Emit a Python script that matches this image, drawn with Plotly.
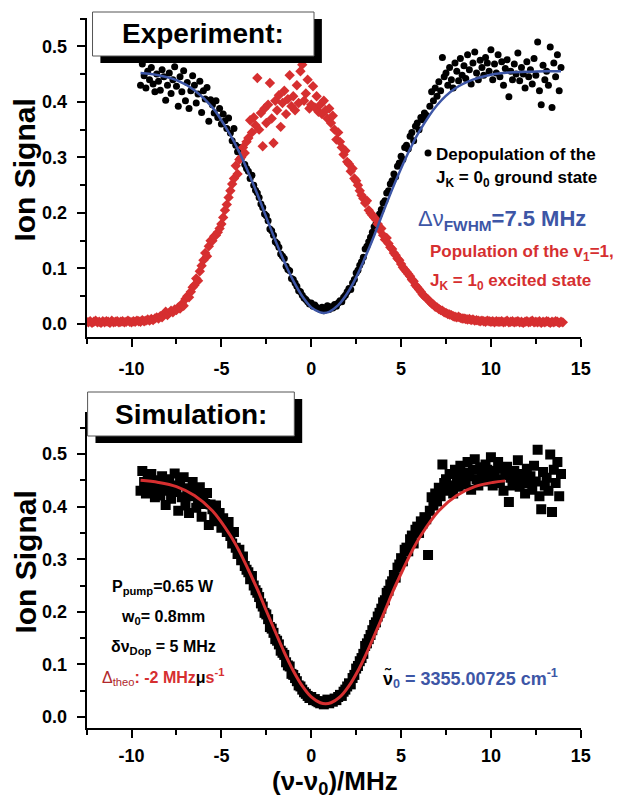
import numpy as np
import plotly.graph_objects as go

# ---------------- data ----------------
# Ground-state depopulation scan (ion signal), sampled every 0.1 MHz from -9.5 MHz
depop_start, depop_step = -9.5, 0.1
depop_signal = [
    0.430, 0.468, 0.447, 0.425, 0.455, 0.440, 0.462, 0.432, 0.418, 0.450,
    0.437, 0.421, 0.458, 0.445, 0.403, 0.430, 0.452, 0.415, 0.440, 0.463,
    0.428, 0.392, 0.445, 0.418, 0.456, 0.402, 0.435, 0.388, 0.420, 0.447,
    0.430, 0.398, 0.414, 0.437, 0.381, 0.420, 0.405, 0.426, 0.365, 0.404,
    0.395, 0.380, 0.402, 0.372, 0.388, 0.360, 0.378, 0.366, 0.352, 0.371,
    0.344, 0.330, 0.352, 0.322, 0.310, 0.318, 0.298, 0.305, 0.287, 0.280,
    0.275, 0.262, 0.268, 0.250, 0.241, 0.236, 0.228, 0.216, 0.210, 0.198,
    0.195, 0.186, 0.171, 0.168, 0.160, 0.148, 0.145, 0.138, 0.126, 0.122,
    0.118, 0.104, 0.098, 0.096, 0.082, 0.080, 0.074, 0.068, 0.060, 0.058,
    0.052, 0.047, 0.044, 0.040, 0.036, 0.038, 0.032, 0.034, 0.030, 0.028,
    0.026, 0.030, 0.024, 0.028, 0.033, 0.026, 0.031, 0.029, 0.035, 0.032,
    0.038, 0.042, 0.040, 0.048, 0.052, 0.058, 0.064, 0.062, 0.074, 0.080,
    0.092, 0.097, 0.106, 0.112, 0.120, 0.135, 0.140, 0.148, 0.156, 0.165,
    0.175, 0.180, 0.191, 0.198, 0.206, 0.218, 0.222, 0.236, 0.240, 0.252,
    0.258, 0.270, 0.265, 0.284, 0.290, 0.302, 0.296, 0.318, 0.322, 0.315,
    0.338, 0.345, 0.330, 0.356, 0.362, 0.350, 0.372, 0.368, 0.380, 0.376,
    0.308, 0.392, 0.418, 0.402, 0.425, 0.410, 0.436, 0.420, 0.480, 0.445,
    0.452, 0.430, 0.462, 0.440, 0.425, 0.470, 0.455, 0.438, 0.478, 0.448,
    0.465, 0.442, 0.485, 0.458, 0.432, 0.470, 0.490, 0.452, 0.440, 0.475,
    0.462, 0.448, 0.480, 0.470, 0.455, 0.494, 0.440, 0.468, 0.452, 0.485,
    0.445, 0.472, 0.430, 0.460, 0.476, 0.409, 0.455, 0.440, 0.468, 0.450,
    0.488, 0.438, 0.462, 0.450, 0.425, 0.472, 0.445, 0.458, 0.432, 0.478,
    0.448, 0.508, 0.420, 0.395, 0.466, 0.440, 0.455, 0.430, 0.499, 0.390,
    0.470, 0.445, 0.485, 0.420, 0.462,
]
depop_freq = np.round(depop_start + depop_step * np.arange(len(depop_signal)), 2)

# Excited-state population scan, sampled every 0.1 MHz from -12.5 MHz
pop_start, pop_step = -12.5, 0.1
pop_signal = [
    0.004, 0.003, 0.005, 0.002, 0.004, 0.006, 0.003, 0.004, 0.002, 0.005,
    0.003, 0.005, 0.004, 0.002, 0.006, 0.003, 0.004, 0.005, 0.003, 0.004,
    0.005, 0.003, 0.004, 0.006, 0.004, 0.003, 0.005, 0.004, 0.006, 0.005,
    0.004, 0.007, 0.005, 0.006, 0.008, 0.006, 0.009, 0.007, 0.010, 0.012,
    0.010, 0.014, 0.012, 0.017, 0.022, 0.016, 0.020, 0.024, 0.021, 0.026,
    0.025, 0.030, 0.028, 0.036, 0.033, 0.045, 0.050, 0.048, 0.058, 0.066,
    0.070, 0.082, 0.078, 0.095, 0.105, 0.115, 0.128, 0.122, 0.140, 0.150,
    0.150, 0.158, 0.160, 0.165, 0.172, 0.180, 0.192, 0.205, 0.215, 0.228,
    0.240, 0.252, 0.262, 0.285, 0.270, 0.296, 0.300, 0.318, 0.308, 0.328,
    0.335, 0.367, 0.345, 0.372, 0.358, 0.443, 0.350, 0.380, 0.320, 0.388,
    0.362, 0.395, 0.434, 0.370, 0.326, 0.402, 0.385, 0.412, 0.355, 0.398,
    0.420, 0.378, 0.405, 0.448, 0.392, 0.410, 0.385, 0.430, 0.398, 0.455,
    0.467, 0.402, 0.415, 0.440, 0.388, 0.395, 0.428, 0.390, 0.410, 0.382,
    0.395, 0.378, 0.402, 0.385, 0.370, 0.388, 0.362, 0.375, 0.350, 0.332,
    0.345, 0.328, 0.318, 0.305, 0.312, 0.292, 0.288, 0.275, 0.280, 0.262,
    0.258, 0.250, 0.240, 0.232, 0.226, 0.218, 0.222, 0.205, 0.200, 0.196,
    0.192, 0.188, 0.180, 0.170, 0.172, 0.160, 0.152, 0.155, 0.145, 0.138,
    0.135, 0.128, 0.124, 0.118, 0.115, 0.108, 0.102, 0.098, 0.094, 0.090,
    0.086, 0.080, 0.077, 0.070, 0.066, 0.062, 0.058, 0.053, 0.050, 0.047,
    0.044, 0.040, 0.037, 0.035, 0.031, 0.030, 0.027, 0.025, 0.024, 0.021,
    0.020, 0.018, 0.017, 0.016, 0.014, 0.013, 0.012, 0.013, 0.011, 0.010,
    0.010, 0.009, 0.008, 0.009, 0.007, 0.008, 0.006, 0.007, 0.006, 0.005,
    0.006, 0.005, 0.004, 0.006, 0.005, 0.004, 0.005, 0.003, 0.005, 0.004,
    0.004, 0.005, 0.003, 0.004, 0.006, 0.003, 0.004, 0.005, 0.003, 0.004,
    0.005, 0.003, 0.004, 0.002, 0.004, 0.005, 0.003, 0.004, 0.006, 0.003,
    0.004, 0.003, 0.005, 0.002, 0.004, 0.003, 0.005, 0.004, 0.002, 0.004,
    0.003, 0.005, 0.004, 0.002, 0.004, 0.003,
]
pop_freq = np.round(pop_start + pop_step * np.arange(len(pop_signal)), 2)

# Gaussian fit of the depopulation dip (FWHM 7.5 MHz)
fit_freq = [-9.5, -8.5, -7.5, -6.5, -5.5, -4.5, -4.0, -3.5, -3.0, -2.5, -2.0,
            -1.5, -1.0, -0.5, 0.0, 0.5, 0.7, 1.0, 1.5, 2.0, 2.5, 3.0, 3.5,
            4.0, 4.5, 5.0, 5.5, 6.0, 7.0, 8.0, 9.0, 10.0, 11.0, 12.0, 13.0, 13.9]
fit_signal = [0.452, 0.448, 0.439, 0.421, 0.390, 0.340, 0.309, 0.273, 0.234,
              0.192, 0.151, 0.112, 0.078, 0.050, 0.030, 0.021, 0.020, 0.022,
              0.034, 0.055, 0.084, 0.120, 0.159, 0.201, 0.242, 0.280, 0.315,
              0.346, 0.394, 0.424, 0.440, 0.449, 0.453, 0.454, 0.455, 0.455]

# Simulated rate-equation curve
sim_freq = [-9.5, -8.5, -7.5, -6.5, -5.5, -4.5, -4.0, -3.5, -3.0, -2.5, -2.0,
            -1.5, -1.0, -0.5, 0.0, 0.5, 0.8, 1.1, 1.6, 2.1, 2.6, 3.1, 3.6,
            4.1, 4.6, 5.1, 5.6, 6.1, 7.1, 8.1, 9.1, 10.1, 10.8]
sim_signal = [0.450, 0.446, 0.438, 0.421, 0.392, 0.345, 0.315, 0.280, 0.243,
              0.202, 0.162, 0.123, 0.088, 0.059, 0.038, 0.027, 0.025, 0.027,
              0.038, 0.059, 0.088, 0.123, 0.162, 0.202, 0.243, 0.280, 0.315,
              0.345, 0.392, 0.421, 0.438, 0.446, 0.449]

x_ticks = [-10, -5, 0, 5, 10, 15]
y_ticks = [0.0, 0.1, 0.2, 0.3, 0.4, 0.5]

# ---------------- styling ----------------
W, H = 639, 799
FONT = "Liberation Sans, Arial, Helvetica, sans-serif"
RED = "#d62f30"
BLUE = "#3d56a6"


def fx(p):
    return p / W


def fy(p):
    return 1 - p / H


fig = go.Figure()

# top panel
fig.add_trace(go.Scatter(x=depop_freq, y=depop_signal, mode="markers",
                         marker=dict(symbol="circle", size=7, color="black"),
                         xaxis="x", yaxis="y", showlegend=False))
fig.add_trace(go.Scatter(x=pop_freq, y=pop_signal, mode="markers",
                         marker=dict(symbol="diamond", size=8, color=RED),
                         xaxis="x", yaxis="y", showlegend=False))
fig.add_trace(go.Scatter(x=fit_freq, y=fit_signal, mode="lines",
                         line=dict(color=BLUE, width=2.5, shape="spline"),
                         xaxis="x", yaxis="y", showlegend=False))

# bottom panel
fig.add_trace(go.Scatter(x=depop_freq, y=depop_signal, mode="markers",
                         marker=dict(symbol="square", size=10, color="black"),
                         xaxis="x2", yaxis="y2", showlegend=False))
fig.add_trace(go.Scatter(x=sim_freq, y=sim_signal, mode="lines",
                         line=dict(color=RED, width=3, shape="spline"),
                         xaxis="x2", yaxis="y2", showlegend=False))

tickfont = dict(family=FONT, size=18, color="black", weight="bold")


def xaxis_style(anchor, standoff):
    return dict(
        domain=[fx(88), fx(590)], anchor=anchor, range=[-12.5, 15],
        tickvals=x_ticks, ticktext=[str(v) for v in x_ticks],
        showline=True, linecolor="black", linewidth=2,
        ticks="outside", ticklen=8, tickwidth=2, tickcolor="black",
        minor=dict(ticks="outside", dtick=2.5, tick0=0, ticklen=5,
                   tickwidth=2, tickcolor="black", showgrid=False),
        showgrid=False, zeroline=False, tickfont=tickfont,
        ticklabelstandoff=standoff,
    )


def yaxis_style(anchor, dom, rng):
    return dict(
        domain=dom, anchor=anchor, range=rng,
        tickvals=y_ticks, ticktext=[f"{v:.1f}" for v in y_ticks],
        showline=True, linecolor="black", linewidth=2,
        ticks="outside", ticklen=8, tickwidth=2, tickcolor="black",
        minor=dict(ticks="outside", dtick=0.05, tick0=0, ticklen=5,
                   tickwidth=2, tickcolor="black", showgrid=False),
        showgrid=False, zeroline=False, tickfont=tickfont,
        ticklabelstandoff=6,
    )


shapes = []
annotations = []


def title_box(x0, y0, x1, y1, text):
    # black drop shadow, then the white framed label box
    shapes.append(dict(type="rect", xref="paper", yref="paper",
                       x0=fx(x0 + 8), x1=fx(x1 + 8), y0=fy(y1 + 7), y1=fy(y0 + 7),
                       fillcolor="black", line=dict(width=0), layer="above"))
    shapes.append(dict(type="rect", xref="paper", yref="paper",
                       x0=fx(x0), x1=fx(x1), y0=fy(y1), y1=fy(y0),
                       fillcolor="white", line=dict(color="#555", width=1),
                       layer="above"))
    annotations.append(dict(xref="paper", yref="paper",
                            x=fx((x0 + x1) / 2), y=fy((y0 + y1) / 2),
                            text=f"<b>{text}</b>", showarrow=False,
                            xanchor="center", yanchor="middle",
                            font=dict(family=FONT, size=28, color="black")))


def label(x, y, text, size, color="black", xanchor="left"):
    annotations.append(dict(xref="paper", yref="paper", x=fx(x), y=fy(y),
                            text=text, showarrow=False, xanchor=xanchor,
                            yanchor="middle",
                            font=dict(family=FONT, size=size, color=color)))


title_box(94, 12, 319, 56, "Experiment:")
title_box(89, 392, 299, 436, "Simulation:")

# axis titles
for yc in (170, 562):
    annotations.append(dict(xref="paper", yref="paper", x=fx(25), y=fy(yc),
                            text="<b>Ion Signal</b>", showarrow=False,
                            textangle=-90, xanchor="center", yanchor="middle",
                            font=dict(family=FONT, size=30, color="black")))
annotations.append(dict(xref="paper", yref="paper", x=fx(340), y=fy(782),
                        text="<b>(ν-ν<sub>0</sub>)/MHz</b>", showarrow=False,
                        xanchor="center", yanchor="middle",
                        font=dict(family=FONT, size=26, color="black")))

# top panel labels
label(441, 154, "<b>Depopulation of the</b>", 17)
label(441, 179, "<b>J<sub>K</sub> = 0<sub>0</sub> ground state</b>", 17)
label(423, 220, "Δν<b><sub>FWHM</sub>=7.5 MHz</b>", 22, BLUE)
label(435, 253, "<b>Population of the v<sub>1</sub>=1,</b>", 17, RED)
label(435, 282, "<b>J<sub>K</sub> = 1<sub>0</sub> excited state</b>", 17, RED)

# bottom panel labels
label(166, 587, "<b>P<sub>pump</sub>=0.65 W</b>", 16, xanchor="center")
label(166, 617, "<b>w<sub>0</sub>= 0.8mm</b>", 16, xanchor="center")
label(166, 647, "<b>δν<sub>Dop</sub> = 5 MHz</b>", 16, xanchor="center")
label(166, 677,
      "<span style='color:#b0282c'>Δ<sub>theo</sub></span>"
      "<b>: -2 MHz<span style='color:black'>μ</span>s<sup>-1</sup></b>",
      16, RED, xanchor="center")
label(387, 678,
      "<b><span style='color:black'>ν\u0303</span><sub>0</sub>"
      " = 3355.00725 cm<sup>-1</sup></b>", 18, BLUE)

fig.update_layout(
    width=W, height=H,
    margin=dict(l=0, r=0, t=0, b=0),
    paper_bgcolor="white", plot_bgcolor="white",
    xaxis=xaxis_style("y", 6),
    yaxis=yaxis_style("x", [fy(337), fy(18)], [-0.0234, 0.551]),
    xaxis2=xaxis_style("y2", 2),
    yaxis2=yaxis_style("x2", [fy(728), fy(412)], [-0.021, 0.58]),
    shapes=shapes, annotations=annotations,
)

fig.write_html("out.html")
